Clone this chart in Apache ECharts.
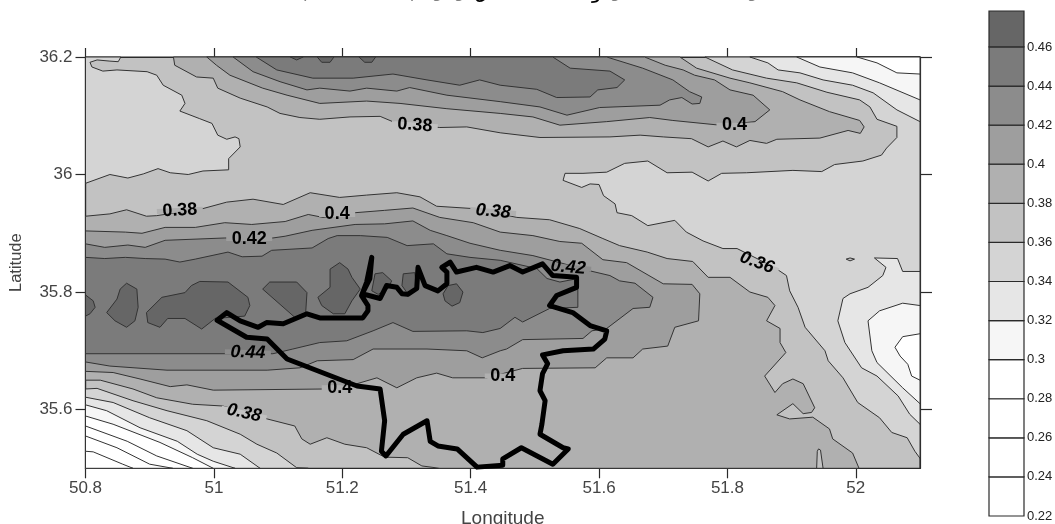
<!DOCTYPE html>
<html><head><meta charset="utf-8">
<style>html,body{margin:0;padding:0;background:#fff}#c{width:1055px;height:524px}</style>
<script src="https://cdn.jsdelivr.net/npm/echarts@6/dist/echarts.min.js"></script>
</head><body><div id="c"></div>
<script>
// ---------- axis ticks ----------
const lonTicks=[50.8,51,51.2,51.4,51.6,51.8,52];
const latTicks=[35.6,35.8,36,36.2];
const colorbarTicks=[0.22,0.24,0.26,0.28,0.3,0.32,0.34,0.36,0.38,0.4,0.42,0.44,0.46];
// colour-bar bands: lower limit, upper limit
const bandLow=[0.22,0.24,0.26,0.28,0.3,0.32,0.34,0.36,0.38,0.4,0.42,0.44,0.46];
const bandHigh=[0.24,0.26,0.28,0.3,0.32,0.34,0.36,0.38,0.4,0.42,0.44,0.46,0.4784];
const bandColor=['#ffffff','#ffffff','#ffffff','#ffffff','#f6f6f6','#e6e6e6','#d4d4d4','#c2c2c2','#b0b0b0','#9e9e9e','#8c8c8c','#7b7b7b','#666666'];

// ---------- contour outlines, [longitude, latitude] ----------
// "le" regions are at or below the level, "ge" regions at or above it
const le36West=[[50.8,35.985],[50.838,36],[50.866,35.994],[50.89,36.001],[50.913,36.01],[50.932,36.003],[50.96,36],[50.983,36.006],[51.023,36.008],[51.023,36.027],[51.041,36.047],[51.039,36.061],[51.033,36.064],[51.02,36.06],[51.006,36.067],[50.997,36.087],[50.978,36.095],[50.947,36.108],[50.955,36.121],[50.95,36.135],[50.921,36.152],[50.911,36.169],[50.896,36.175],[50.849,36.178],[50.827,36.176],[50.81,36.183],[50.807,36.191],[50.818,36.195],[50.838,36.193],[50.851,36.192],[50.855,36.2],[50.8,36.2]];
const le36East=[[51.765,36.2],[51.808,36.178],[51.861,36.164],[51.908,36.156],[51.955,36.14],[52.006,36.127],[52.022,36.115],[52.033,36.094],[52.064,36.082],[52.064,36.063],[52.048,36.045],[52.04,36.033],[52.011,36.023],[51.967,36.017],[51.947,36.005],[51.902,36.007],[51.83,36.003],[51.791,36.002],[51.77,35.989],[51.745,36.004],[51.706,36.003],[51.676,36.023],[51.64,36.019],[51.612,36.004],[51.575,36.002],[51.547,36.002],[51.544,35.99],[51.573,35.978],[51.586,35.984],[51.6,35.983],[51.607,35.964],[51.625,35.95],[51.628,35.935],[51.651,35.93],[51.676,35.913],[51.718,35.922],[51.736,35.902],[51.762,35.887],[51.793,35.874],[51.815,35.874],[51.846,35.857],[51.877,35.839],[51.892,35.828],[51.897,35.802],[51.91,35.774],[51.921,35.74],[51.952,35.7],[51.957,35.683],[51.98,35.654],[52.003,35.612],[52.037,35.586],[52.056,35.561],[52.08,35.552],[52.092,35.529],[52.1,35.517],[52.1,36.2]];
const le36SW=[[50.8,35.635],[50.818,35.636],[50.874,35.615],[50.927,35.598],[50.989,35.581],[51.041,35.558],[51.067,35.541],[51.098,35.526],[51.129,35.501],[51.147,35.5],[50.8,35.5]];
const le34NE=[[51.835,36.2],[51.863,36.19],[51.879,36.178],[51.913,36.173],[51.949,36.161],[51.995,36.152],[52.027,36.139],[52.064,36.11],[52.1,36.09],[52.1,36.2]];
const le34East=[[52.1,35.835],[52.073,35.835],[52.065,35.857],[52.029,35.858],[52.047,35.842],[52.042,35.828],[52.019,35.808],[51.991,35.797],[51.98,35.789],[51.972,35.751],[51.983,35.714],[52.009,35.671],[52.033,35.657],[52.066,35.623],[52.084,35.592],[52.1,35.575]];
const le34SW=[[50.8,35.621],[50.843,35.612],[50.9,35.586],[50.958,35.564],[50.999,35.535],[51.041,35.524],[51.072,35.5],[50.8,35.5]];
const le32NE=[[51.908,36.2],[51.944,36.183],[51.995,36.173],[52.037,36.156],[52.1,36.127],[52.1,36.2]];
const le32East=[[52.1,35.777],[52.073,35.781],[52.037,35.768],[52.019,35.751],[52.025,35.7],[52.033,35.68],[52.073,35.637],[52.1,35.61]];
const le32SW=[[50.8,35.608],[50.833,35.598],[50.885,35.569],[50.943,35.546],[50.974,35.524],[50.999,35.512],[51.033,35.5],[50.8,35.5]];
const le30NE=[[52.002,36.2],[52.033,36.19],[52.064,36.173],[52.1,36.171],[52.1,36.2]];
const le30East=[[52.1,35.729],[52.073,35.724],[52.061,35.706],[52.069,35.691],[52.081,35.677],[52.087,35.657],[52.1,35.65]];
const le30SW=[[50.8,35.589],[50.843,35.575],[50.916,35.544],[50.967,35.518],[50.999,35.5],[50.8,35.5]];
const le28SW=[[50.8,35.572],[50.865,35.546],[50.911,35.521],[50.967,35.5],[50.8,35.5]];
const le26SW=[[50.8,35.555],[50.849,35.535],[50.9,35.507],[50.936,35.5],[50.8,35.5]];
const le24SW=[[50.8,35.529],[50.812,35.528],[50.858,35.507],[50.874,35.5],[50.8,35.5]];
const islandEast=[[51.985,35.856],[51.991,35.858],[51.998,35.856],[51.991,35.853]];
const ge38North=[[50.937,36.2],[50.939,36.186],[50.973,36.166],[50.999,36.164],[51.006,36.147],[51.041,36.13],[51.083,36.115],[51.103,36.104],[51.134,36.097],[51.165,36.094],[51.212,36.098],[51.259,36.099],[51.285,36.087],[51.352,36.08],[51.394,36.081],[51.446,36.071],[51.508,36.063],[51.617,36.064],[51.664,36.067],[51.7,36.064],[51.744,36.061],[51.77,36.047],[51.793,36.057],[51.814,36.047],[51.835,36.058],[51.861,36.053],[51.877,36.06],[51.944,36.062],[51.988,36.075],[52.007,36.07],[52.013,36.081],[52.006,36.092],[51.959,36.107],[51.913,36.127],[51.886,36.141],[51.835,36.156],[51.804,36.164],[51.752,36.181],[51.726,36.2]];
const ge38South=[[50.8,35.929],[50.838,35.933],[50.864,35.94],[50.895,35.929],[50.911,35.93],[50.983,35.942],[51.02,35.953],[51.061,35.958],[51.108,35.949],[51.15,35.969],[51.196,35.961],[51.238,35.965],[51.285,35.969],[51.321,35.962],[51.347,35.946],[51.404,35.942],[51.472,35.927],[51.523,35.923],[51.57,35.908],[51.606,35.891],[51.632,35.879],[51.675,35.868],[51.706,35.857],[51.746,35.852],[51.77,35.825],[51.804,35.825],[51.835,35.8],[51.863,35.791],[51.874,35.777],[51.861,35.751],[51.882,35.738],[51.882,35.714],[51.891,35.697],[51.858,35.657],[51.874,35.629],[51.886,35.644],[51.902,35.652],[51.918,35.644],[51.936,35.603],[51.931,35.595],[51.918,35.593],[51.902,35.61],[51.877,35.591],[51.897,35.584],[51.933,35.587],[51.959,35.567],[51.964,35.55],[51.995,35.526],[52.005,35.5],[51.352,35.5],[51.324,35.504],[51.302,35.518],[51.266,35.519],[51.238,35.535],[51.204,35.541],[51.176,35.552],[51.15,35.541],[51.137,35.55],[51.126,35.572],[51.083,35.584],[51.014,35.606],[50.967,35.609],[50.911,35.62],[50.874,35.635],[50.823,35.65],[50.8,35.65]];
const fingerSouth=[[51.939,35.5],[51.94,35.529],[51.942,35.533],[51.945,35.531],[51.949,35.5]];
const ge40North=[[50.989,36.2],[51.004,36.186],[51.025,36.169],[51.076,36.147],[51.114,36.135],[51.165,36.121],[51.238,36.125],[51.29,36.121],[51.363,36.112],[51.446,36.104],[51.497,36.098],[51.539,36.084],[51.612,36.09],[51.679,36.097],[51.715,36.092],[51.788,36.084],[51.843,36.09],[51.866,36.11],[51.84,36.135],[51.804,36.144],[51.78,36.161],[51.749,36.169],[51.731,36.178],[51.703,36.186],[51.671,36.2]];
const ge40South=[[50.8,35.904],[50.862,35.902],[50.888,35.9],[50.924,35.91],[50.971,35.91],[51.017,35.918],[51.059,35.915],[51.111,35.92],[51.147,35.932],[51.17,35.927],[51.22,35.935],[51.266,35.939],[51.31,35.943],[51.352,35.927],[51.404,35.918],[51.446,35.902],[51.497,35.896],[51.539,35.886],[51.573,35.883],[51.606,35.855],[51.643,35.85],[51.7,35.814],[51.745,35.813],[51.757,35.797],[51.755,35.751],[51.718,35.74],[51.707,35.708],[51.668,35.703],[51.653,35.688],[51.612,35.688],[51.594,35.671],[51.481,35.67],[51.425,35.654],[51.372,35.654],[51.347,35.662],[51.316,35.654],[51.285,35.637],[51.254,35.654],[51.223,35.644],[51.176,35.635],[50.999,35.633],[50.958,35.642],[50.932,35.639],[50.885,35.652],[50.843,35.663],[50.8,35.665]];
const ge42North=[[51.03,36.2],[51.061,36.175],[51.103,36.158],[51.145,36.144],[51.165,36.147],[51.212,36.142],[51.238,36.147],[51.285,36.142],[51.305,36.148],[51.363,36.135],[51.446,36.124],[51.508,36.115],[51.55,36.101],[51.601,36.114],[51.695,36.118],[51.71,36.127],[51.729,36.131],[51.745,36.12],[51.757,36.121],[51.76,36.132],[51.741,36.141],[51.715,36.161],[51.668,36.181],[51.612,36.2]];
const ge42South=[[50.8,35.882],[50.83,35.876],[50.866,35.88],[50.893,35.876],[50.924,35.888],[51.017,35.892],[51.092,35.892],[51.111,35.895],[51.153,35.905],[51.22,35.915],[51.266,35.916],[51.31,35.921],[51.337,35.905],[51.363,35.896],[51.399,35.883],[51.446,35.871],[51.497,35.862],[51.539,35.85],[51.586,35.836],[51.617,35.828],[51.632,35.819],[51.656,35.815],[51.684,35.791],[51.679,35.774],[51.653,35.772],[51.612,35.738],[51.589,35.734],[51.575,35.721],[51.481,35.719],[51.456,35.703],[51.446,35.7],[51.418,35.688],[51.394,35.7],[51.332,35.703],[51.248,35.703],[51.217,35.685],[51.161,35.683],[51.134,35.671],[51.083,35.667],[50.927,35.667],[50.838,35.674],[50.8,35.681]];
const ge44North=[[51.066,36.2],[51.098,36.178],[51.154,36.164],[51.217,36.164],[51.279,36.171],[51.332,36.161],[51.383,36.152],[51.414,36.161],[51.446,36.152],[51.503,36.145],[51.534,36.131],[51.586,36.132],[51.598,36.144],[51.628,36.148],[51.64,36.161],[51.617,36.176],[51.555,36.181],[51.528,36.2]];
const ge44South=[[50.8,35.859],[50.83,35.857],[50.862,35.859],[50.893,35.857],[50.924,35.856],[50.947,35.851],[50.971,35.856],[51.022,35.868],[51.044,35.86],[51.075,35.861],[51.09,35.871],[51.153,35.875],[51.178,35.891],[51.192,35.896],[51.228,35.896],[51.27,35.893],[51.301,35.879],[51.342,35.882],[51.363,35.865],[51.399,35.859],[51.446,35.854],[51.503,35.84],[51.519,35.823],[51.539,35.817],[51.567,35.823],[51.567,35.774],[51.523,35.772],[51.481,35.749],[51.469,35.757],[51.446,35.738],[51.419,35.731],[51.394,35.734],[51.31,35.733],[51.279,35.748],[51.248,35.734],[51.207,35.717],[51.165,35.714],[51.123,35.703],[51.092,35.695],[50.8,35.695]];
const ge46N1=[[51.119,36.2],[51.129,36.195],[51.139,36.2]];
const ge46N2=[[51.161,36.2],[51.168,36.191],[51.181,36.191],[51.187,36.2]];
const ge46N3=[[51.226,36.2],[51.235,36.191],[51.246,36.191],[51.252,36.2]];
const ge46B1=[[50.8,35.795],[50.812,35.785],[50.815,35.774],[50.807,35.763],[50.8,35.759]];
const ge46B2=[[50.864,35.815],[50.88,35.805],[50.882,35.774],[50.877,35.751],[50.864,35.74],[50.846,35.751],[50.833,35.765],[50.849,35.788],[50.854,35.805]];
const ge46B3=[[50.965,35.811],[50.978,35.818],[51.022,35.817],[51.053,35.791],[51.056,35.777],[51.048,35.759],[51.002,35.755],[50.981,35.737],[50.955,35.755],[50.928,35.755],[50.916,35.74],[50.897,35.748],[50.895,35.765],[50.919,35.791],[50.955,35.799]];
const ge46B4=[[51.076,35.805],[51.087,35.817],[51.129,35.817],[51.145,35.799],[51.143,35.765],[51.126,35.757]];
const ge46B5=[[51.196,35.85],[51.209,35.839],[51.215,35.825],[51.228,35.805],[51.215,35.785],[51.204,35.763],[51.186,35.763],[51.168,35.777],[51.162,35.791],[51.181,35.808],[51.181,35.839]];
const ge46B6=[[51.251,35.831],[51.263,35.833],[51.277,35.819],[51.271,35.806],[51.256,35.796],[51.246,35.802]];
const ge46B7=[[51.295,35.831],[51.313,35.833],[51.316,35.807],[51.302,35.797],[51.293,35.811]];
const ge46B8=[[51.357,35.797],[51.365,35.811],[51.378,35.814],[51.388,35.8],[51.383,35.782],[51.371,35.776],[51.36,35.785]];

// ---------- district outline ----------
const districtOutline=[[51.005,35.752],[51.02,35.765],[51.041,35.751],[51.069,35.74],[51.082,35.748],[51.108,35.746],[51.145,35.763],[51.165,35.756],[51.232,35.756],[51.24,35.768],[51.24,35.777],[51.23,35.794],[51.238,35.817],[51.246,35.859],[51.243,35.823],[51.231,35.797],[51.259,35.789],[51.269,35.811],[51.285,35.808],[51.293,35.797],[51.302,35.796],[51.316,35.806],[51.318,35.842],[51.329,35.811],[51.349,35.802],[51.363,35.814],[51.363,35.834],[51.355,35.842],[51.368,35.851],[51.378,35.834],[51.409,35.842],[51.435,35.834],[51.461,35.845],[51.481,35.834],[51.512,35.848],[51.528,35.828],[51.565,35.825],[51.565,35.808],[51.534,35.794],[51.523,35.777],[51.559,35.765],[51.586,35.743],[51.612,35.734],[51.609,35.72],[51.591,35.703],[51.544,35.7],[51.512,35.693],[51.52,35.678],[51.512,35.661],[51.508,35.632],[51.516,35.615],[51.511,35.575],[51.508,35.558],[51.544,35.535],[51.552,35.533],[51.528,35.507],[51.479,35.535],[51.45,35.516],[51.45,35.505],[51.41,35.502],[51.379,35.533],[51.349,35.538],[51.337,35.546],[51.332,35.581],[51.295,35.558],[51.268,35.521],[51.261,35.529],[51.266,35.581],[51.259,35.635],[51.223,35.64],[51.114,35.686],[51.083,35.72],[51.051,35.723],[51.005,35.752]];

// ---------- contour labels ----------
const labelText=['0.38','0.4','0.38','0.4','0.38','0.42','0.44','0.42','0.36','0.4','0.4','0.38'];
const labelLon=[51.313,51.811,50.947,51.192,51.435,51.055,51.053,51.552,51.846,51.45,51.196,51.047];
const labelLat=[36.084,36.084,35.939,35.932,35.937,35.891,35.697,35.842,35.85,35.657,35.637,35.594];

// painting order: each region with the band it is filled with
const regions=[
 [le36West,6],[le36East,6],[le36SW,6],[le34NE,5],[le34East,5],[le34SW,5],[le32NE,4],[le32East,4],[le32SW,4],
 [le30NE,3],[le30East,3],[le30SW,3],[le28SW,2],[le26SW,1],[le24SW,0],[islandEast,7],
 [ge38North,8],[ge38South,8],[fingerSouth,7],[ge40North,9],[ge40South,9],[ge42North,10],[ge42South,10],
 [ge44North,11],[ge44South,11],[ge46N1,12],[ge46N2,12],[ge46N3,12],[ge46B1,12],[ge46B2,12],[ge46B3,12],
 [ge46B4,12],[ge46B5,12],[ge46B6,12],[ge46B7,12],[ge46B8,12]
];
// label look: angle (deg clockwise), gap colour band, italic
const labelAngle=[4,0,-3,0,5,0,2,5,20,0,0,12];
const labelBand=[7,8,8,8,8,9,10,10,7,8,8,7];
const labelItalic=[0,0,0,0,1,0,1,1,1,0,0,1];

const FONT='"Liberation Sans", Arial, sans-serif';
const TXT='#444444';
const chart=echarts.init(document.getElementById('c'),null,{renderer:'canvas'});
const frame={lineStyle:{color:'#2a2a2a',width:1.2}};
const fmt=v=>String(+(+v).toFixed(2));
chart.setOption({
 animation:false,
 backgroundColor:'#fff',
 grid:[
  {left:85.5,top:57,width:834.5,height:411.3,show:true,backgroundColor:bandColor[7],borderColor:'#2a2a2a',borderWidth:1.2,outerBoundsMode:'none'},
  {left:989,top:11,width:35,height:505,outerBoundsMode:'none'}
 ],
 graphic:[
  {type:'text',left:300,top:-17,silent:true,style:{text:'(                )  ق ی ی',font:'20px "DejaVu Sans"',fill:'#000'}},
  {type:'text',left:592,top:-17,silent:true,style:{text:'ی و',font:'20px "DejaVu Sans"',fill:'#000'}},
  {type:'text',left:745,top:-17,silent:true,style:{text:'ی',font:'20px "DejaVu Sans"',fill:'#000'}}
 ],
 xAxis:[
  {gridIndex:0,type:'value',min:50.8,max:52.1,position:'bottom',name:'Longitude',nameLocation:'middle',nameGap:41,
   nameTextStyle:{fontFamily:FONT,fontSize:19,color:TXT},
   splitLine:{show:false},axisLine:{show:true,onZero:false,...frame},
   axisTick:{show:true,length:10,customValues:lonTicks,...frame},
   axisLabel:{customValues:lonTicks,formatter:fmt,margin:12,fontFamily:FONT,fontSize:17,color:TXT,hideOverlap:false}},
  {gridIndex:0,type:'value',min:50.8,max:52.1,position:'top',
   splitLine:{show:false},axisLine:{show:true,onZero:false,...frame},
   axisTick:{show:true,length:9,customValues:lonTicks,...frame},axisLabel:{show:false}},
  {gridIndex:1,type:'value',min:0,max:1,show:false}
 ],
 yAxis:[
  {gridIndex:0,type:'value',min:35.5,max:36.2,position:'left',name:'Latitude',nameLocation:'middle',nameRotate:90,nameGap:61,
   nameTextStyle:{fontFamily:FONT,fontSize:16.5,color:TXT},
   splitLine:{show:false},axisLine:{show:true,onZero:false,...frame},
   axisTick:{show:true,length:10,customValues:latTicks,...frame},
   axisLabel:{customValues:latTicks,formatter:fmt,margin:13,fontFamily:FONT,fontSize:17,color:TXT}},
  {gridIndex:0,type:'value',min:35.5,max:36.2,position:'right',
   splitLine:{show:false},axisLine:{show:true,onZero:false,...frame},
   axisTick:{show:true,length:12,customValues:latTicks,...frame},axisLabel:{show:false}},
  {gridIndex:1,type:'value',min:0.22,max:0.4784,position:'right',
   splitLine:{show:false},axisLine:{show:false},
   axisTick:{show:false},
   axisLabel:{customValues:colorbarTicks,formatter:fmt,margin:3,fontFamily:FONT,fontSize:13,color:'#222'}}
 ],
 series:[
  {type:'custom',name:'contours',xAxisIndex:0,yAxisIndex:0,z:2,silent:true,
   data:regions.map((r,i)=>[i]),
   renderItem:(p,api)=>{
     const r=regions[api.value(0)];
     return {type:'polygon',shape:{points:r[0].map(q=>api.coord(q))},
       style:{fill:bandColor[r[1]],stroke:'#333333',lineWidth:1}};
   }},
  {type:'custom',name:'labels',xAxisIndex:0,yAxisIndex:0,z:3,silent:true,
   data:labelText.map((t,i)=>[labelLon[i],labelLat[i],i]),
   renderItem:(p,api)=>{
     const i=api.value(2), c=api.coord([api.value(0),api.value(1)]);
     const w=labelText[i].length*10+6;
     return {type:'group',x:c[0],y:c[1],rotation:-labelAngle[i]*Math.PI/180,children:[
       {type:'rect',shape:{x:-w/2,y:-2.5,width:w,height:5},style:{fill:bandColor[labelBand[i]]}},
       {type:'text',style:{text:labelText[i],x:0,y:0,align:'center',verticalAlign:'middle',
         font:(labelItalic[i]?'italic ':'')+'bold 18px '+FONT,fill:'#000'}}
     ]};
   }},
  {type:'line',name:'district',xAxisIndex:0,yAxisIndex:0,z:4,silent:true,symbol:'none',smooth:false,
   data:districtOutline,lineStyle:{color:'#000',width:5,cap:'round',join:'round'}},
  {type:'custom',name:'colorbar',xAxisIndex:2,yAxisIndex:2,z:2,silent:true,
   data:bandLow.map((v,i)=>[i]),
   renderItem:(p,api)=>{
     const i=api.value(0),a=api.coord([0,bandHigh[i]]),b=api.coord([1,bandLow[i]]);
     return {type:'rect',shape:{x:a[0],y:a[1],width:b[0]-a[0],height:b[1]-a[1]},
       style:{fill:bandColor[i],stroke:'#2a2a2a',lineWidth:1.2}};
   }}
 ]
});
</script></body></html>
